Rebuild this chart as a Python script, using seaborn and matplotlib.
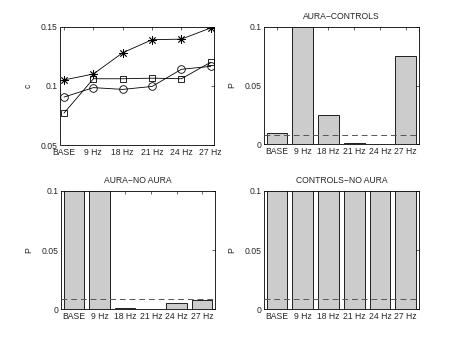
import matplotlib
matplotlib.use("Agg")
import matplotlib.pyplot as plt
import seaborn as sns
import pandas as pd
import numpy as np

sns.set_style("white")
plt.rcParams['font.family'] = ['Liberation Sans', 'DejaVu Sans']

categories = ["BASE", "9 Hz", "18 Hz", "21 Hz", "24 Hz", "27 Hz"]

# top-left: c values for three groups
c_star = [0.105, 0.110, 0.128, 0.139, 0.1395, 0.149]
c_square = [0.077, 0.106, 0.106, 0.1065, 0.106, 0.120]
c_circle = [0.0905, 0.0985, 0.097, 0.0995, 0.114, 0.1165]

# p-values of the pairwise comparisons
p_aura_controls = [0.0095, 0.21, 0.0245, 0.0010, 0.0005, 0.075]
p_aura_noaura = [0.34, 0.27, 0.0008, 0.0002, 0.0055, 0.0078]
p_controls_noaura = [0.45, 0.62, 0.38, 0.71, 0.29, 0.55]

threshold = 0.05 / 6

W, H = 463, 348
fig = plt.figure(figsize=(W / 100, H / 100), dpi=100)

def ax_at(l, t, r, b):
    return fig.add_axes([l / W, 1 - b / H, (r - l) / W, (b - t) / H])

FS = 6.2

def style(ax):
    ax.tick_params(direction='in', length=2.5, width=0.5, labelsize=FS,
                   top=True, right=True, pad=2)
    for s in ax.spines.values():
        s.set_linewidth(0.6)
        s.set_color('black')
        s.set_visible(True)

# top-left line chart
ax1 = ax_at(60.5, 26.7, 214.3, 145)
df = pd.DataFrame({
    "cat": categories * 3,
    "c": c_star + c_square + c_circle,
    "grp": ["star"] * 6 + ["square"] * 6 + ["circle"] * 6,
})
for g, m, ms in [("star", (8, 2, 0), 6), ("square", "s", 5), ("circle", "o", 5.5)]:
    sub = df[df.grp == g]
    sns.lineplot(data=sub, x="cat", y="c", ax=ax1, color='black', lw=0.6,
                 marker=m, markersize=ms, markerfacecolor='none',
                 markeredgecolor='black', markeredgewidth=0.6, sort=False)
ax1.set_xlim(-0.12, 5.12)
ax1.set_ylim(0.05, 0.15)
ax1.set_yticks([0.05, 0.1, 0.15])
ax1.set_yticklabels(["0.05", "0.1", "0.15"])
ax1.set_xlabel("")
ax1.set_ylabel("c", fontsize=FS, labelpad=6)
style(ax1)

def barpanel(ax, vals, title):
    d = pd.DataFrame({"cat": categories, "p": vals})
    sns.barplot(data=d, x="cat", y="p", ax=ax, color='#cccccc', saturation=1,
                edgecolor='black', linewidth=0.6, width=0.8)
    ax.axhline(threshold, color='#555555', ls=(0, (6, 4)), lw=0.7, zorder=5)
    ax.set_xlim(-0.5, 5.5)
    ax.set_ylim(0, 0.1)
    ax.set_yticks([0, 0.05, 0.1])
    ax.set_yticklabels(["0", "0.05", "0.1"])
    ax.set_xlabel("")
    ax.set_ylabel("P", fontsize=FS, labelpad=6)
    ax.set_title(title, fontsize=FS, pad=5.5)
    style(ax)

ax2 = ax_at(264, 26.7, 418.7, 144.3)
barpanel(ax2, p_aura_controls, "AURA\u2212CONTROLS")
ax3 = ax_at(61, 190.7, 215, 309.3)
barpanel(ax3, p_aura_noaura, "AURA\u2212NO AURA")
ax4 = ax_at(264, 190.7, 418.7, 309.3)
barpanel(ax4, p_controls_noaura, "CONTROLS\u2212NO AURA")

fig.savefig("out.png", dpi=100)
